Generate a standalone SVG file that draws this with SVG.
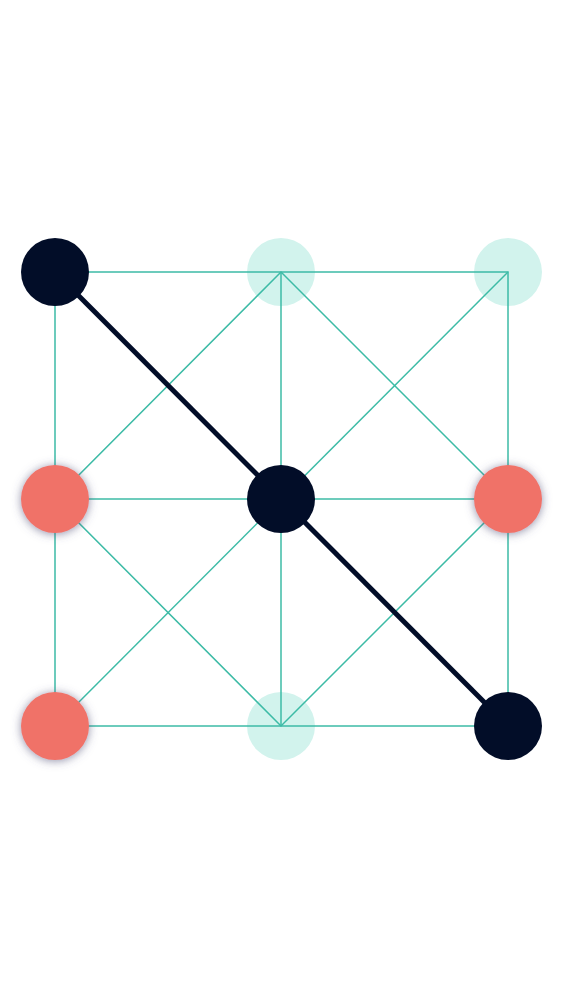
<svg xmlns="http://www.w3.org/2000/svg" width="563" height="1000" viewBox="0 0 563 1000">
<defs>
<style>
.g{stroke:#3dbba6;stroke-width:1.5;fill:none}
.pale{fill:#d2f3ed}
.dark{fill:#020d28}
.red{fill:#f07268;filter:url(#sh)}
</style>
<filter id="sh" x="-50%" y="-50%" width="200%" height="200%">
<feDropShadow dx="0" dy="1" stdDeviation="5" flood-color="#55557a" flood-opacity="0.65"/>
</filter>
</defs>
<rect width="563" height="1000" fill="#ffffff"/>
<g id="pale-nodes">
<circle id="n-top-mid" class="pale" cx="281" cy="272" r="34"/>
<circle id="n-top-right" class="pale" cx="508" cy="272" r="34"/>
<circle id="n-bot-mid" class="pale" cx="281" cy="726" r="34"/>
</g>
<g id="connectors">
<rect class="g" x="55" y="272" width="453" height="454"/>
<line class="g" x1="55" y1="499" x2="508" y2="499"/>
<line class="g" x1="281" y1="272" x2="281" y2="726"/>
<line class="g" x1="508" y1="272" x2="55" y2="726"/>
<polygon class="g" points="281,272 508,499 281,726 55,499"/>
<line x1="55" y1="272" x2="508" y2="726" stroke="#020d28" stroke-width="5"/>
</g>
<g id="n-top-left"><circle class="dark" cx="55" cy="272" r="34"/></g>
<g id="n-center"><circle class="dark" cx="281" cy="499" r="34"/></g>
<g id="n-bot-right"><circle class="dark" cx="508" cy="726" r="34"/></g>
<g id="n-mid-left"><circle class="red" cx="55" cy="499" r="34"/></g>
<g id="n-mid-right"><circle class="red" cx="508" cy="499" r="34"/></g>
<g id="n-bot-left"><circle class="red" cx="55" cy="726" r="34"/></g>
</svg>
